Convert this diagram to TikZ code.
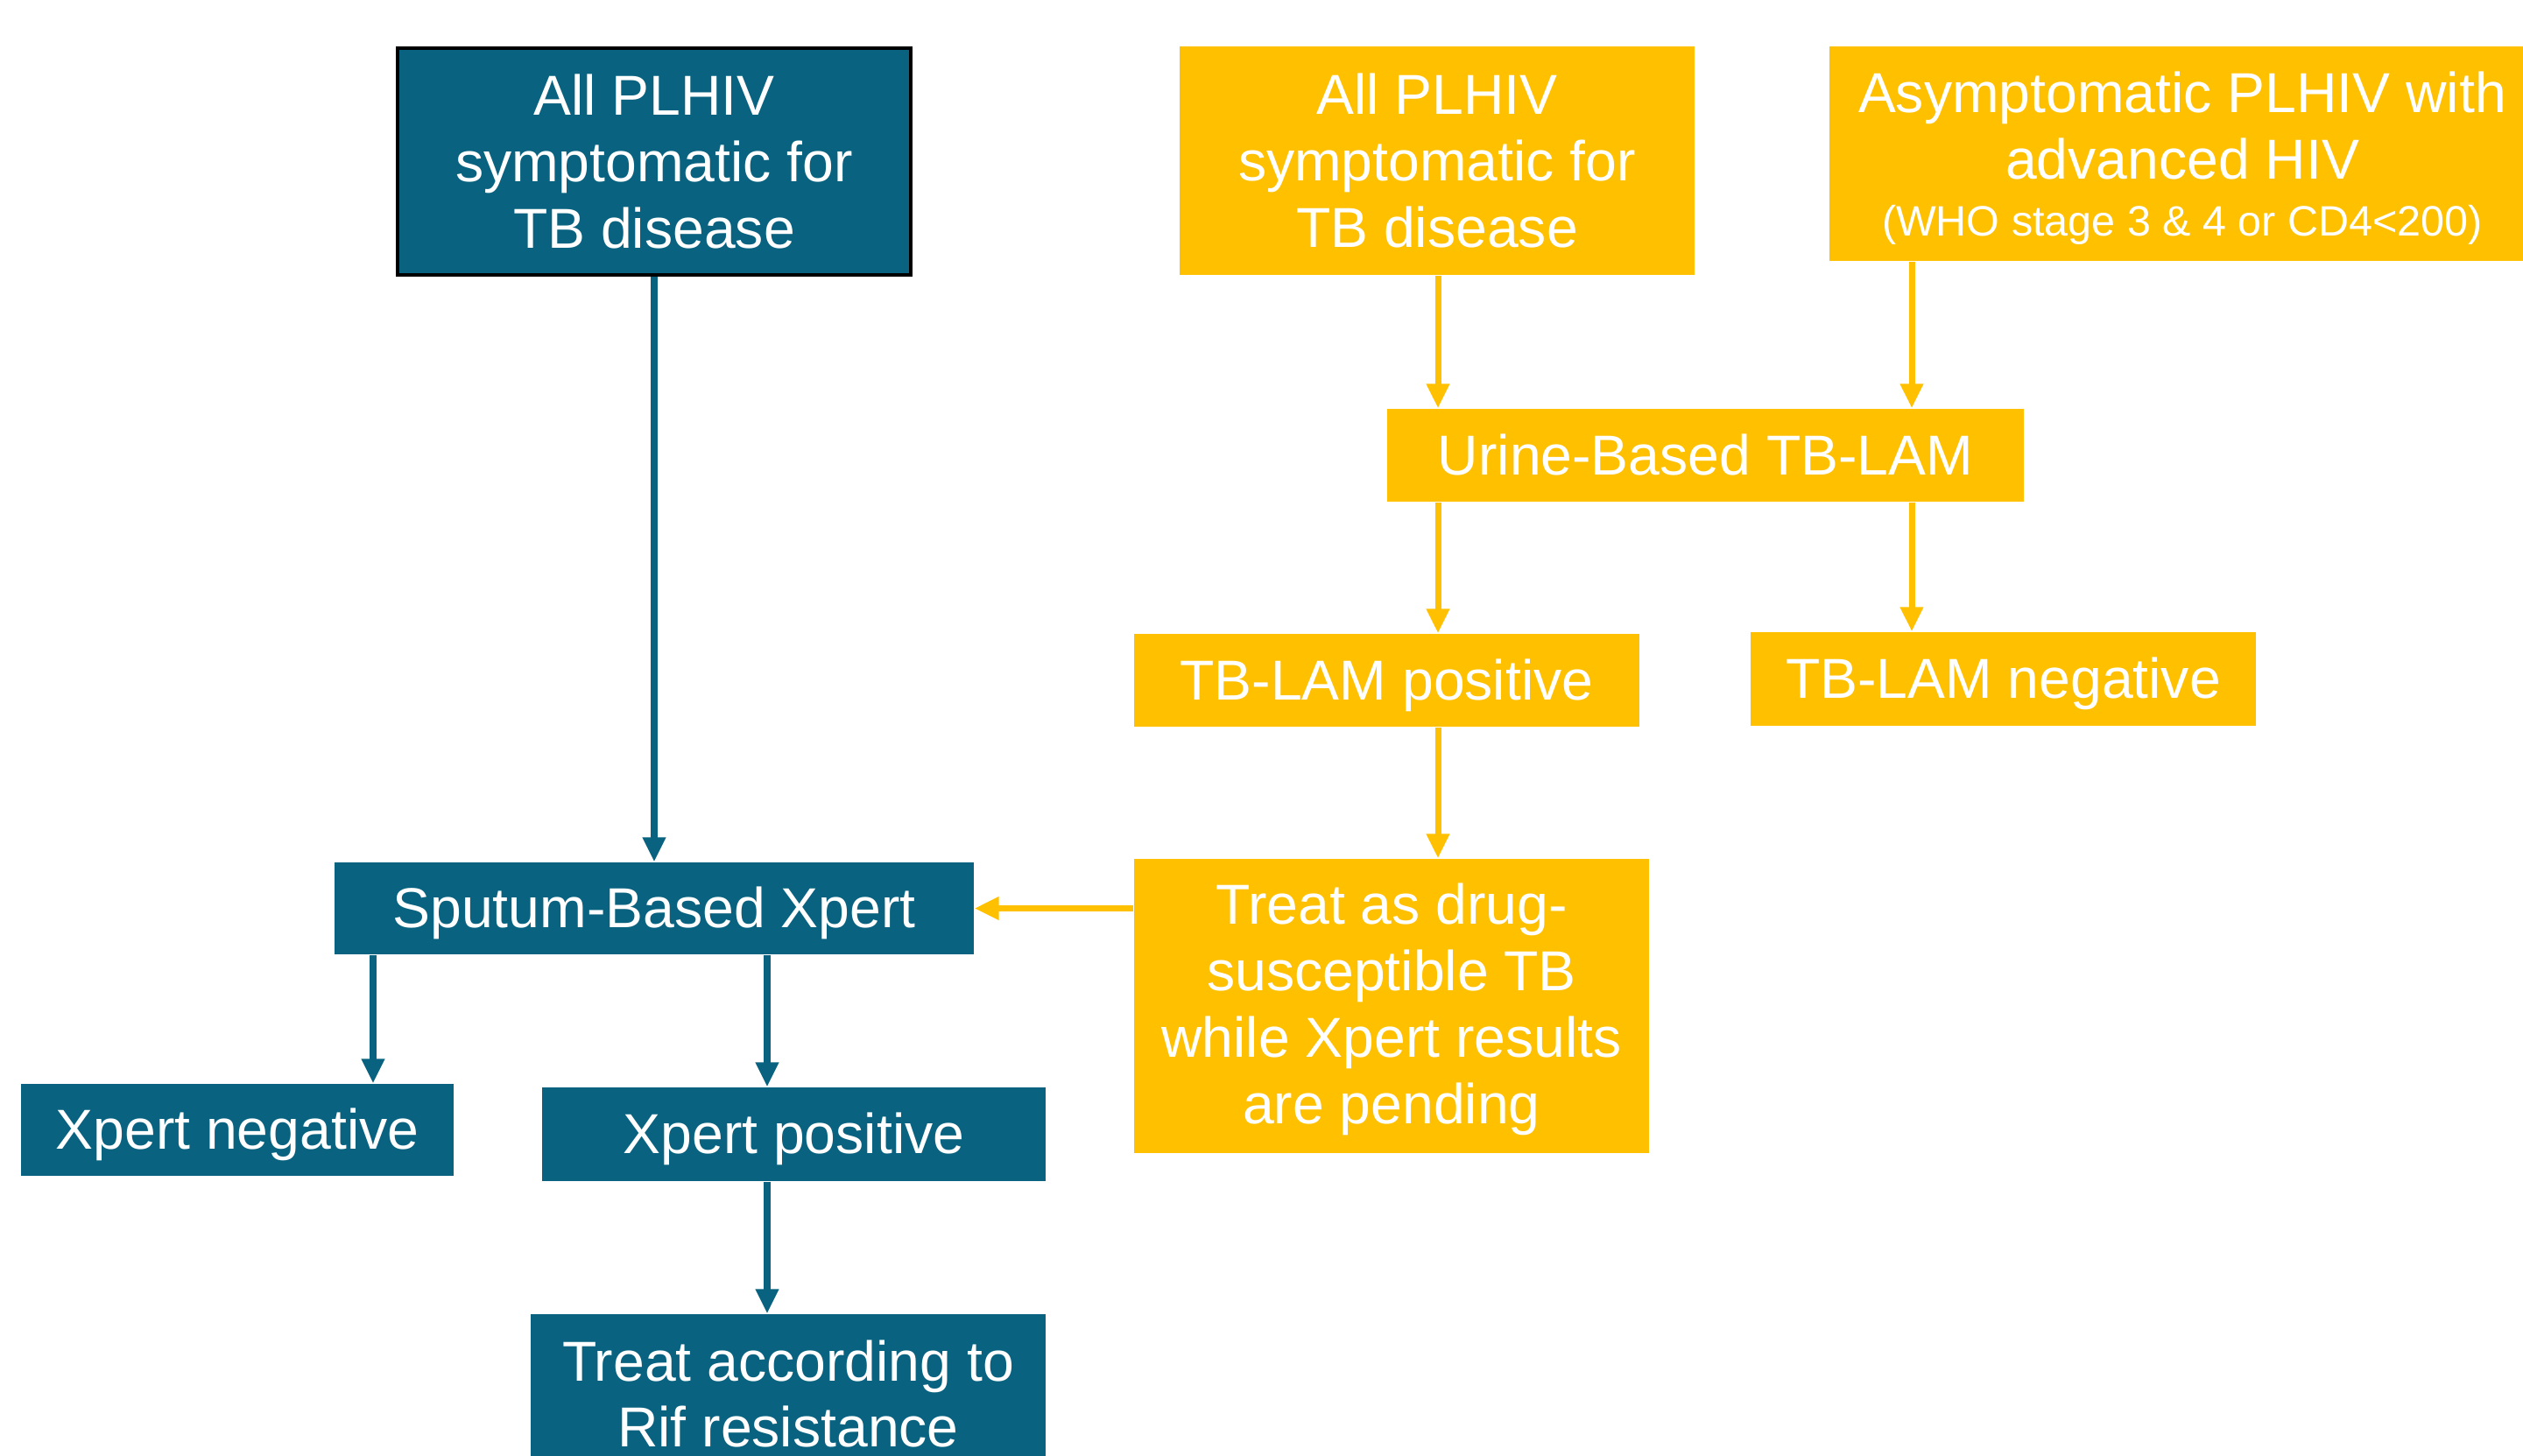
\documentclass[tikz,border=0pt]{standalone}
\usepackage{fontspec}
\setmainfont{Liberation Sans}
\usepackage{tikz}
\usetikzlibrary{arrows.meta,positioning}
\definecolor{tbteal}{RGB}{9,99,128}
\definecolor{tbgold}{RGB}{255,192,0}
\tikzset{
    -{Triangle[length=2.8mm,width=2.5mm]},
    tbbox/.style ={rectangle, inner sep=0pt, align=center, text=white,
                   font=\fontsize{18.3}{21.6}\selectfont},
    oneline/.style={execute at begin node={\rule{0pt}{0.905em}},
                    execute at end node={\rule[-0.212em]{0pt}{0pt}}},
    tealbox/.style={tbbox, fill=tbteal},
    goldbox/.style={tbbox, fill=tbgold},
    tealline/.style={draw=tbteal, line width=2.3pt},
    goldline/.style={draw=tbgold, line width=2pt}
}

\begin{document}
\begin{tikzpicture}
    \useasboundingbox (0,0) rectangle (28.81,-16.63);

    % left column (teal)
    \node[tealbox, draw=black, line width=1.2pt, minimum width=5.86cm, minimum height=2.59cm] (allsym) at (7.47,-1.845) {All PLHIV\\symptomatic for\\TB disease};
    \node[tealbox, oneline, minimum width=7.30cm, minimum height=1.05cm] (sputum) at (7.47,-10.375) {Sputum-Based Xpert};
    \node[tealbox, oneline, minimum width=4.94cm, minimum height=1.05cm] (xneg) at (2.71,-12.905) {Xpert negative};
    \node[tealbox, oneline, minimum width=5.75cm, minimum height=1.07cm] (xpos) at (9.065,-12.955) {Xpert positive};
    \node[tealbox, minimum width=5.88cm, minimum height=1.82cm] (rif) at (9.00,-15.92) {Treat according to\\Rif resistance};

    % right column (gold)
    \node[goldbox, minimum width=5.88cm, minimum height=2.61cm] (lamsym) at (16.41,-1.835) {All PLHIV\\symptomatic for\\TB disease};
    \node[goldbox, text depth=-1.2pt, minimum width=8.06cm, minimum height=2.45cm] (asym) at (24.92,-1.755) {Asymptomatic PLHIV with\\advanced HIV\\[-3pt]{\fontsize{13.8}{16}\selectfont (WHO stage 3 \& 4 or CD4<200)}};
    \node[goldbox, oneline, minimum width=7.27cm, minimum height=1.06cm] (urine) at (19.475,-5.20) {Urine-Based TB-LAM};
    \node[goldbox, oneline, minimum width=5.77cm, minimum height=1.06cm] (lampos) at (15.835,-7.77) {TB-LAM positive};
    \node[goldbox, oneline, minimum width=5.77cm, minimum height=1.07cm] (lamneg) at (22.875,-7.755) {TB-LAM negative};
    \node[goldbox, text depth=1.7pt, minimum width=5.88cm, minimum height=3.36cm] (treat) at (15.89,-11.49) {Treat as drug-\\susceptible TB\\while Xpert results\\are pending};

    % arrow columns
    \coordinate (lx) at (16.42,0);
    \coordinate (rx) at (21.83,0);
    \coordinate (nx) at (4.26,0);
    \coordinate (px) at (8.76,0);

    \path (allsym) edge[tealline] (sputum);
    \path (sputum.south -| nx) edge[tealline] (xneg.north -| nx);
    \path (sputum.south -| px) edge[tealline] (xpos.north -| px);
    \path (xpos.south -| px) edge[tealline] (rif.north -| px);

    \path (lamsym.south -| lx) edge[goldline] (urine.north -| lx);
    \path (asym.south -| rx) edge[goldline] (urine.north -| rx);
    \path (urine.south -| lx) edge[goldline] (lampos.north -| lx);
    \path (urine.south -| rx) edge[goldline] (lamneg.north -| rx);
    \path (lampos.south -| lx) edge[goldline] (treat.north -| lx);
    \path (treat.west |- sputum) edge[goldline] (sputum.east);

\end{tikzpicture}
\end{document}
